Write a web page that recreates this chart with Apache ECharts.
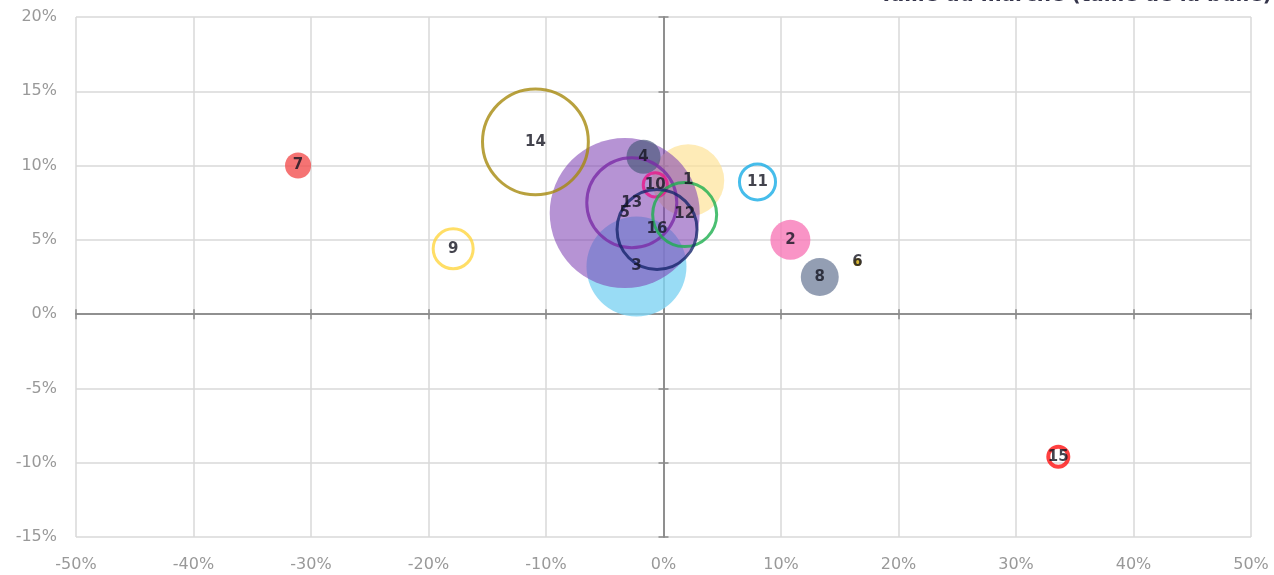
<!DOCTYPE html>
<html>
<head>
<meta charset="utf-8">
<script src="https://cdn.jsdelivr.net/npm/echarts@6/dist/echarts.min.js"></script>
<style>
html,body{margin:0;padding:0;background:#fff;}
#chart{width:1274px;height:575px;}
</style>
</head>
<body>
<div id="chart"></div>
<script>
// ---- data ----
const ids      = ['1','2','3','4','5','6','7','8','9','10','11','12','13','14','15','16'];
const croissX  = [2.1, 10.8, -2.3, -1.7, -3.3, 16.5, -31.1, 13.3, -17.9, -0.7, 8.0, 1.8, -2.7, -10.9, 33.6, -0.55]; // %
const croissY  = [9.0, 5.0, 3.2, 10.6, 6.8, 3.5, 10.0, 2.5, 4.4, 8.7, 8.9, 6.7, 7.5, 11.6, -9.6, 5.7];            // %
const taille   = [52, 16, 100, 11.6, 225, 0.6, 6.8, 14.4, 16, 5.8, 13, 41, 81, 112, 4, 64];
const xTicks   = [-50,-40,-30,-20,-10,0,10,20,30,40,50];
const yTicks   = [-15,-10,-5,0,5,10,15,20];
const titre    = 'Taille du marché (taille de la bulle)';

// ---- styles (not data) ----
const styles = {
  '1':  {fill:'rgba(253,226,150,0.85)'},
  '2':  {fill:'#f779b8'},
  '3':  {fill:'#80d3f3'},
  '4':  {fill:'rgba(75,90,125,0.85)'},
  '5':  {fill:'rgba(125,62,178,0.7)'},
  '6':  {fill:'#c9a100'},
  '7':  {fill:'#f35050'},
  '8':  {fill:'#7886a0'},
  '9':  {ring:'#ffd640'},
  '10': {ring:'#e8168a'},
  '11': {ring:'#18ace6'},
  '12': {ring:'#1daf4f'},
  '13': {ring:'#7a2ca6'},
  '14': {ring:'#a68a0e'},
  '15': {ring:'#ff1010', w:4},
  '16': {ring:'#16256b'}
};
const drawOrder = ['3','1','5','4','14','13','10','12','16','7','9','11','2','8','6','15'];

function sizeOf(v){ return 10*Math.sqrt(v); }

const bubbleData = drawOrder.map(id => {
  const i = ids.indexOf(id);
  const st = styles[id];
  const item = {name:id, value:[croissX[i], croissY[i], taille[i]]};
  if (st.ring) {
    item.itemStyle = {color:'rgba(255,255,255,0)', borderColor:st.ring, borderWidth:st.w || 3};
  } else {
    item.itemStyle = {color:st.fill, borderWidth:0};
  }
  return item;
});
const labelData = ids.map((id,i)=>({name:id, value:[croissX[i], croissY[i], taille[i]]}));

const FONT = 'DejaVu Sans';
const baseX = {type:'value', min:xTicks[0], max:xTicks[xTicks.length-1], interval:10};
const baseY = {type:'value', min:yTicks[0], max:yTicks[yTicks.length-1], interval:5};

const chart = echarts.init(document.getElementById('chart'), null, {renderer:'canvas'});
chart.setOption({
  animation:false,
  backgroundColor:'#fff',
  grid:{left:76, right:23, top:17, bottom:38, containLabel:false},
  xAxis:[
    Object.assign({}, baseX, {
      position:'bottom',
      axisLine:{show:false, onZero:false},
      axisTick:{show:false},
      axisLabel:{formatter:'{value}%', color:'#999999', fontFamily:FONT, fontSize:16, margin:20},
      splitLine:{show:true, lineStyle:{color:'#d9d9d9', width:1.5}}
    }),
    Object.assign({}, baseX, {
      axisLine:{show:true, onZero:true, lineStyle:{color:'#8a8a8a', width:1.5}},
      axisTick:{show:true, inside:false, length:5, lineStyle:{color:'#8a8a8a', width:1.5}},
      axisLabel:{show:false}, splitLine:{show:false}
    }),
    Object.assign({}, baseX, {
      axisLine:{show:true, onZero:true, lineStyle:{color:'#8a8a8a', width:1.5}},
      axisTick:{show:true, inside:true, length:5, lineStyle:{color:'#8a8a8a', width:1.5}},
      axisLabel:{show:false}, splitLine:{show:false}
    })
  ],
  yAxis:[
    Object.assign({}, baseY, {
      position:'left',
      axisLine:{show:false, onZero:false},
      axisTick:{show:false},
      axisLabel:{formatter:'{value}%', color:'#999999', fontFamily:FONT, fontSize:16, margin:19},
      splitLine:{show:true, lineStyle:{color:'#d9d9d9', width:1.5}}
    }),
    Object.assign({}, baseY, {
      position:'left',
      axisLine:{show:true, onZero:true, lineStyle:{color:'#8a8a8a', width:1.5}},
      axisTick:{show:true, inside:false, length:5, lineStyle:{color:'#8a8a8a', width:1.5}},
      axisLabel:{show:false}, splitLine:{show:false}
    }),
    Object.assign({}, baseY, {
      position:'left',
      axisLine:{show:true, onZero:true, lineStyle:{color:'#8a8a8a', width:1.5}},
      axisTick:{show:true, inside:true, length:5, lineStyle:{color:'#8a8a8a', width:1.5}},
      axisLabel:{show:false}, splitLine:{show:false}
    })
  ],
  graphic:[{
    type:'text', right:2, top:-14,
    style:{text:titre, font:'bold 20px "' + FONT + '"', fill:'#34344a'}
  }],
  series:[
    {
      type:'scatter', xAxisIndex:0, yAxisIndex:0,
      data:bubbleData,
      symbol:'circle',
      symbolSize:(v)=>sizeOf(v[2]),
      label:{show:false},
      emphasis:{disabled:true},
      z:2
    },
    {
      type:'scatter', xAxisIndex:0, yAxisIndex:0,
      data:labelData,
      symbolSize:0,
      itemStyle:{color:'rgba(0,0,0,0)'},
      label:{show:true, position:'inside', formatter:'{b}', color:'#141420',
             fontFamily:FONT, fontWeight:'bold', fontSize:15},
      emphasis:{disabled:true},
      z:5
    }
  ]
});
</script>
</body>
</html>
